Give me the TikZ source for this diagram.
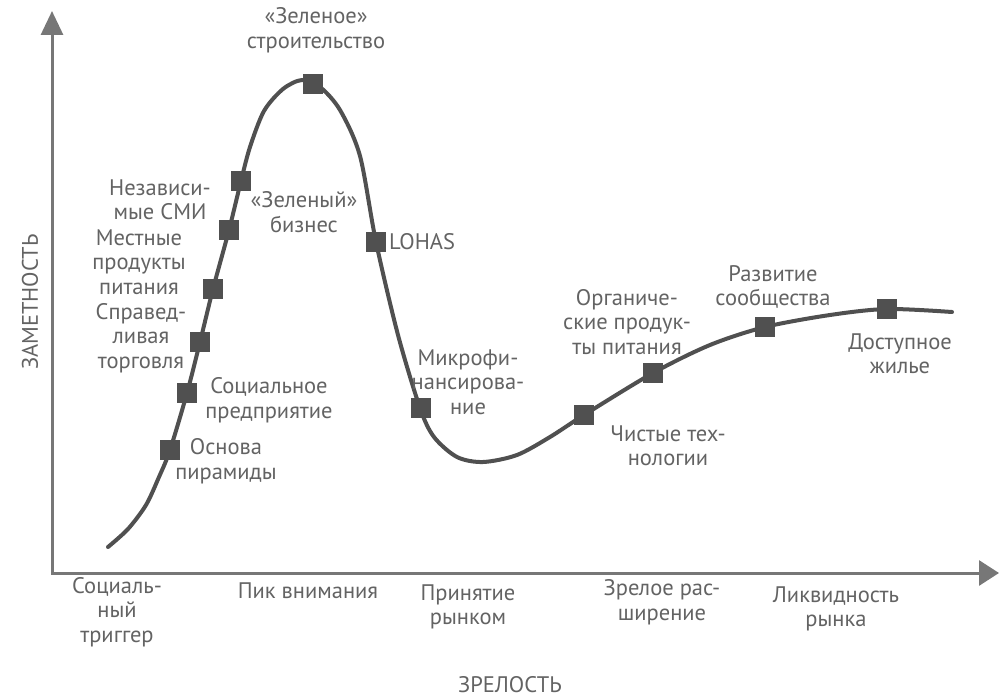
\documentclass[tikz,border=0pt]{standalone}
\usepackage{fontspec}
\setmainfont{PT Sans}
\usetikzlibrary{arrows.meta}
\definecolor{ink}{HTML}{505050}
\definecolor{txt}{HTML}{636363}
\definecolor{axiscol}{HTML}{777777}
\begin{document}
\begin{tikzpicture}[x=1pt,y=-1pt,
  lbl/.style={text=txt, font=\fontsize{22.5}{24.5}\selectfont, align=center, inner sep=0pt},
  sq/.style={fill=ink, minimum size=20pt, inner sep=0pt, outer sep=0pt},
  axisline/.style={draw=axiscol, line width=3pt,
    {Triangle[length=24pt,width=22pt]}-{Triangle[length=20pt,width=25pt]}},
  hype/.style={draw=ink, line width=4pt, line cap=round}]
\useasboundingbox (0,0) rectangle (999,698);

% axes
\coordinate (O) at (52,573);
\coordinate (ytip) at (52,11);
\coordinate (xtip) at (999,573);
\draw[axisline] (ytip) -- (O) -- (xtip);

% hype curve
\draw[hype] plot[smooth, tension=0.5] coordinates {
  (108,547) (128,529) (146,505) (159,477) (170,450) (187,393) (200,342) (213,289) (229,230)
  (241,181) (250,147) (264,111) (283,89) (302,80) (320,87) (340,110) (360,156)
  (376,242) (398,335) (420,408) (434,437) (457,457) (483,462) (517,455) (550,437)
  (584,415) (653,373) (710,345) (765,327) (830,315) (887,309) (952,312)};

% markers on the curve
\node[sq] (m1) at (170,450) {};
\node[sq] (m2) at (187,393) {};
\node[sq] (m3) at (200,342) {};
\node[sq] (m4) at (213,289) {};
\node[sq] (m5) at (229,230) {};
\node[sq] (m6) at (241,181) {};
\node[sq] (m7) at (313,84) {};
\node[sq] (m8) at (376,242) {};
\node[sq] (m9) at (421,408) {};
\node[sq] (m10) at (584,415) {};
\node[sq] (m11) at (653,373) {};
\node[sq] (m12) at (765,327) {};
\node[sq] (m13) at (887,309) {};

% point labels
\node[lbl] (tzel) at (316,30) {«Зеленое»\\строительство};
\node[lbl] (tnez) at (160,200) {Независи-\\мые СМИ};
\node[lbl] (tmes) at (139,262) {Местные\\продукты\\питания};
\node[lbl] (tspr) at (141,338) {Справед-\\ливая\\торговля};
\node[lbl] (tsoc) at (269,400) {Социальное\\предприятие};
\node[lbl] (tosn) at (226,461) {Основа\\пирамиды};
\node[lbl] (tbiz) at (304,212) {«Зеленый»\\бизнес};
\node[lbl, anchor=west] (tloh) at (389,242) {LOHAS};
\node[lbl] (tmik) at (468,382) {Микрофи-\\нансирова-\\ние};
\node[lbl] (torg) at (627,322) {Органиче-\\ские продук-\\ты питания};
\node[lbl] (traz) at (773,287) {Развитие\\сообщества};
\node[lbl] (tdos) at (900,354) {Доступное\\жилье};
\node[lbl] (tchi) at (668,446) {Чистые тех-\\нологии};

% phase labels
\node[lbl] (p1) at (117,612) {Социаль-\\ный\\триггер};
\node[lbl] (p2) at (308,591) {Пик внимания};
\node[lbl] (p3) at (468,607) {Принятие\\рынком};
\node[lbl] (p4) at (662,602) {Зрелое рас-\\ширение};
\node[lbl] (p5) at (836,609) {Ликвидность\\рынка};

% axis titles
\node[lbl] (xt) at (510,685) {ЗРЕЛОСТЬ};
\node[lbl, rotate=90] (yt) at (30,302) {ЗАМЕТНОСТЬ};
\end{tikzpicture}
\end{document}
